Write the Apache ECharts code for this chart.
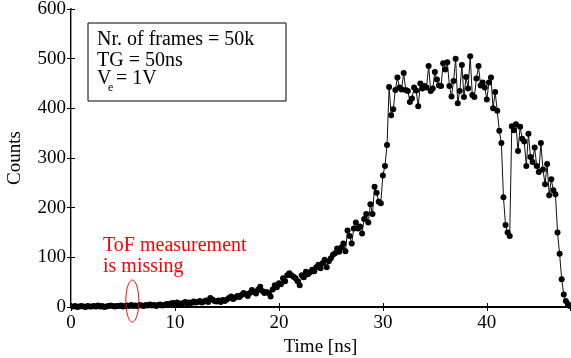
<!DOCTYPE html>
<html>
<head>
<meta charset="utf-8">
<script src="https://cdn.jsdelivr.net/npm/echarts@6/dist/echarts.min.js"></script>
<style>
  html, body { margin: 0; padding: 0; background: #fff; }
  #chart { width: 571px; height: 358px; }
</style>
</head>
<body>
<div id="chart"></div>
<script>
// time of flight [ns], one sample every 0.2 ns
const times = [
  0.2, 0.4, 0.6, 0.8, 1.0, 1.2, 1.4, 1.6, 1.8, 2.0, 2.2, 2.4, 2.6, 2.8, 3.0, 3.2, 3.4, 3.6, 3.8, 4.0,
  4.2, 4.4, 4.6, 4.8, 5.0, 5.2, 5.4, 5.6, 5.8, 6.0, 6.2, 6.4, 6.6, 6.8, 7.0, 7.2, 7.4, 7.6, 7.8, 8.0,
  8.2, 8.4, 8.6, 8.8, 9.0, 9.2, 9.4, 9.6, 9.8, 10.0, 10.2, 10.4, 10.6, 10.8, 11.0, 11.2, 11.4, 11.6, 11.8, 12.0,
  12.2, 12.4, 12.6, 12.8, 13.0, 13.2, 13.4, 13.6, 13.8, 14.0, 14.2, 14.4, 14.6, 14.8, 15.0, 15.2, 15.4, 15.6, 15.8, 16.0,
  16.2, 16.4, 16.6, 16.8, 17.0, 17.2, 17.4, 17.6, 17.8, 18.0, 18.2, 18.4, 18.6, 18.8, 19.0, 19.2, 19.4, 19.6, 19.8, 20.0,
  20.2, 20.4, 20.6, 20.8, 21.0, 21.2, 21.4, 21.6, 21.8, 22.0, 22.2, 22.4, 22.6, 22.8, 23.0, 23.2, 23.4, 23.6, 23.8, 24.0,
  24.2, 24.4, 24.6, 24.8, 25.0, 25.2, 25.4, 25.6, 25.8, 26.0, 26.2, 26.4, 26.6, 26.8, 27.0, 27.2, 27.4, 27.6, 27.8, 28.0,
  28.2, 28.4, 28.6, 28.8, 29.0, 29.2, 29.4, 29.6, 29.8, 30.0, 30.2, 30.4, 30.6, 30.8, 31.0, 31.2, 31.4, 31.6, 31.8, 32.0,
  32.2, 32.4, 32.6, 32.8, 33.0, 33.2, 33.4, 33.6, 33.8, 34.0, 34.2, 34.4, 34.6, 34.8, 35.0, 35.2, 35.4, 35.6, 35.8, 36.0,
  36.2, 36.4, 36.6, 36.8, 37.0, 37.2, 37.4, 37.6, 37.8, 38.0, 38.2, 38.4, 38.6, 38.8, 39.0, 39.2, 39.4, 39.6, 39.8, 40.0,
  40.2, 40.4, 40.6, 40.8, 41.0, 41.2, 41.4, 41.6, 41.8, 42.0, 42.2, 42.4, 42.6, 42.8, 43.0, 43.2, 43.4, 43.6, 43.8, 44.0,
  44.2, 44.4, 44.6, 44.8, 45.0, 45.2, 45.4, 45.6, 45.8, 46.0, 46.2, 46.4, 46.6, 46.8, 47.0, 47.2, 47.4, 47.6, 47.8, 48.0
];

const counts = [
  1, 2, 0, 1, 2, 1, 0, 2, 1, 1, 2, 1, 3, 1, 2, 0, 1, 2, 3, 2,
  1, 2, 2, 3, 1, 2, 3, 2, 4, 2, 3, 2, 4, 3, 2, 4, 3, 5, 3, 4,
  2, 4, 5, 3, 4, 6, 5, 7, 8, 6, 9, 7, 6, 8, 10, 7, 9, 8, 11, 9,
  10, 12, 9, 11, 13, 10, 18, 15, 12, 11, 13, 10, 14, 12, 15, 18, 21, 16, 19, 22,
  20, 24, 28, 26, 22, 28, 34, 30, 27, 35, 41, 32, 28, 30, 28, 21, 35, 44, 40, 48,
  46, 58, 52, 64, 68, 64, 61, 58, 52, 44, 64, 60, 71, 66, 70, 75, 72, 80, 85, 78,
  88, 95, 80, 92, 98, 105, 108, 118, 111, 120, 128, 112, 154, 143, 128, 158, 170, 158, 162, 148,
  177, 187, 170, 207, 187, 242, 230, 212, 209, 265, 284, 326, 443, 386, 398, 437, 462, 442, 438, 471,
  437, 435, 413, 420, 442, 436, 404, 450, 440, 445, 442, 485, 435, 440, 473, 458, 446, 445, 491, 478,
  493, 445, 424, 455, 500, 410, 435, 487, 423, 463, 440, 505, 427, 423, 460, 485, 446, 452, 442, 418,
  452, 462, 400, 433, 395, 355, 330, 221, 165, 150, 143, 364, 356, 368, 314, 363, 339, 333, 284, 349,
  302, 292, 321, 284, 272, 330, 277, 247, 288, 225, 257, 235, 227, 150, 107, 56, 25, 12, 6, 2
];

const infoLines = ['Nr. of frames = 50k', 'TG = 50ns'];
const missingNote = ['ToF measurement', 'is missing'];
const missingAt = [5.9, 0];

const font = 'Liberation Serif, Times New Roman, serif';
const chart = echarts.init(document.getElementById('chart'));

const xBase = {
    type: 'value', min: 0, max: 48, interval: 10,
    axisTick: { inside: true, length: 4, lineStyle: { color: '#000' } },
    splitLine: { show: false }
};
const yBase = {
    type: 'value', min: 0, max: 600, interval: 100,
    axisTick: { inside: true, length: 4, lineStyle: { color: '#000' } },
    splitLine: { show: false }
};

chart.setOption({
    animation: false,
    grid: { left: 71, right: 1, top: 9, bottom: 51, outerBoundsMode: 'none', containLabel: false },
    xAxis: [
        Object.assign({}, xBase, {
            position: 'bottom',
            name: 'Time [ns]', nameLocation: 'middle', nameGap: 30,
            nameTextStyle: { fontFamily: font, fontSize: 19, color: '#000' },
            axisLine: { lineStyle: { color: '#000', width: 2 } },
            axisLabel: { fontFamily: font, fontSize: 19, color: '#000', margin: 7, showMaxLabel: false }
        }),
        Object.assign({}, xBase, {
            position: 'top',
            axisLine: { lineStyle: { color: '#000', width: 1 } },
            axisLabel: { show: false }
        })
    ],
    yAxis: [
        Object.assign({}, yBase, {
            position: 'left',
            name: 'Counts', nameLocation: 'middle', nameGap: 46,
            nameTextStyle: { fontFamily: font, fontSize: 19, color: '#000' },
            axisLine: { lineStyle: { color: '#000', width: 2 } },
            axisLabel: { fontFamily: font, fontSize: 19, color: '#000', margin: 5 }
        }),
        Object.assign({}, yBase, {
            position: 'right',
            axisLine: { lineStyle: { color: '#999', width: 1 } },
            axisLabel: { show: false }
        })
    ],
    series: [{
        type: 'line',
        data: times.map((t, i) => [t, counts[i]]),
        symbol: 'circle',
        symbolSize: 6,
        showAllSymbol: true,
        itemStyle: { color: '#000' },
        lineStyle: { color: '#111', width: 1 }
    }]
});

// red ellipse round the spot where the ToF value is missing
const p = chart.convertToPixel({ xAxisIndex: 0, yAxisIndex: 0 }, missingAt);
const ellipsePts = [];
for (let k = 0; k < 48; k++) {
    const a = k / 48 * Math.PI * 2;
    ellipsePts.push([p[0] + 6.5 * Math.cos(a), p[1] - 6 + 21 * Math.sin(a)]);
}

chart.setOption({
    graphic: [
        { type: 'rect', shape: { x: 88, y: 23, width: 198, height: 78 },
          style: { fill: '#fff', stroke: '#000', lineWidth: 1 } },
        { type: 'text', x: 97, y: 40,
          style: { text: infoLines[0], font: '20px ' + font, fill: '#000', verticalAlign: 'middle' } },
        { type: 'text', x: 97, y: 61,
          style: { text: infoLines[1], font: '20px ' + font, fill: '#000', verticalAlign: 'middle' } },
        { type: 'text', x: 97, y: 79,
          style: { text: 'V', font: '20px ' + font, fill: '#000', verticalAlign: 'middle' } },
        { type: 'text', x: 108, y: 88,
          style: { text: 'e', font: '12px ' + font, fill: '#000', verticalAlign: 'middle' } },
        { type: 'text', x: 116, y: 79,
          style: { text: '= 1V', font: '20px ' + font, fill: '#000', verticalAlign: 'middle' } },
        { type: 'text', x: 103, y: 246,
          style: { text: missingNote[0], font: '20px ' + font, fill: '#ff0000', verticalAlign: 'middle' } },
        { type: 'text', x: 103, y: 267,
          style: { text: missingNote[1], font: '20px ' + font, fill: '#ff0000', verticalAlign: 'middle' } },
        { type: 'polygon', shape: { points: ellipsePts },
          style: { fill: 'none', stroke: '#ff0000', lineWidth: 1 }, z: 10 }
    ]
});
</script>
</body>
</html>
